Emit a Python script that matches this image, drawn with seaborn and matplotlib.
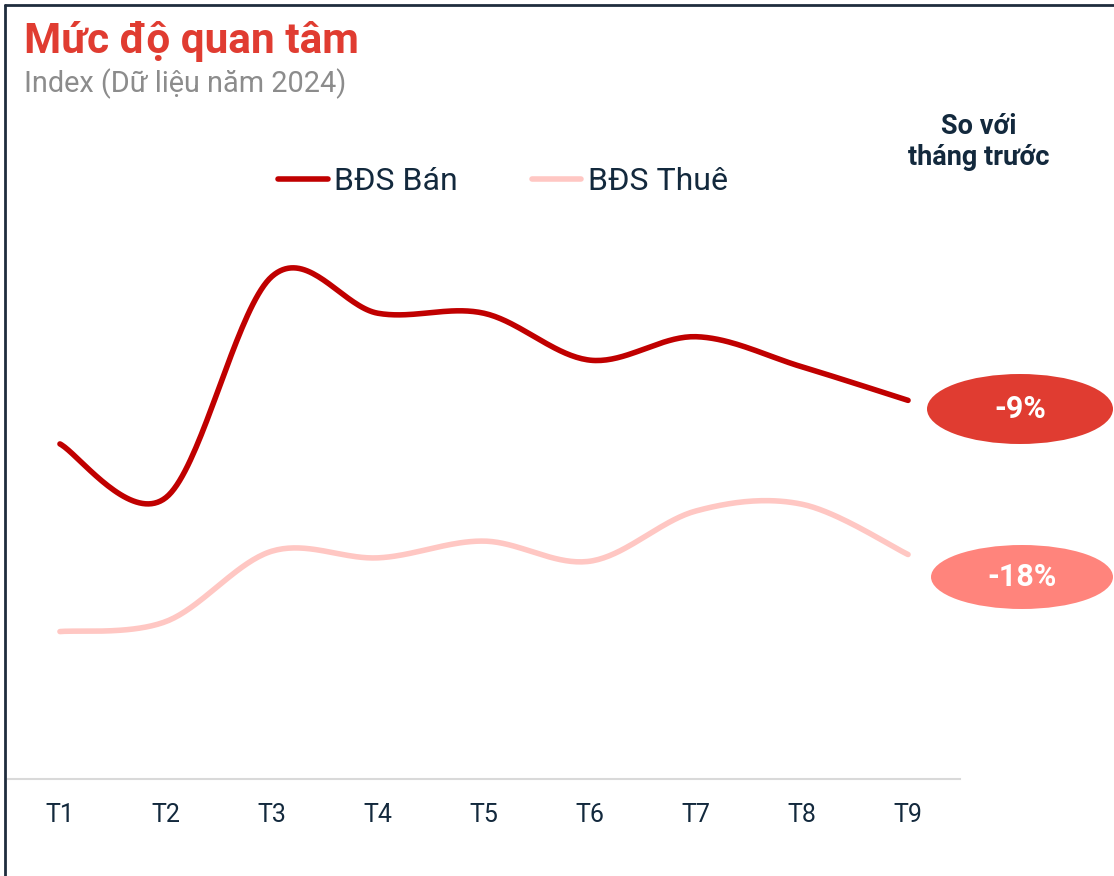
import numpy as np
import pandas as pd
import matplotlib
matplotlib.use('Agg')
import matplotlib.pyplot as plt
from matplotlib.patches import Ellipse
from matplotlib.lines import Line2D
import seaborn as sns

# data (index)
months = ['T1', 'T2', 'T3', 'T4', 'T5', 'T6', 'T7', 'T8', 'T9']
ban = [100, 84, 150, 139, 139, 125, 132, 123, 113]
thue = [44, 47, 68, 66, 71, 65, 80, 82, 67]
series_names = ['BĐS Bán', 'BĐS Thuê']
changes = ['-9%', '-18%']

RED = '#C00000'
PINK = '#FFC7C3'
NAVY = '#13293D'


# excel-like smoothing: bezier through every point (catmull-rom tangents)
def smooth(values, n=40):
    x = np.arange(len(values), dtype=float)
    y = np.array(values, dtype=float)
    pts = np.column_stack([x, y])
    out = []
    for i in range(len(pts) - 1):
        p0 = pts[max(i - 1, 0)]
        p1 = pts[i]
        p2 = pts[i + 1]
        p3 = pts[min(i + 2, len(pts) - 1)]
        c1 = p1 + (p2 - p0) / 6
        c2 = p2 - (p3 - p1) / 6
        t = np.linspace(0, 1, n)[:, None]
        seg = (1 - t) ** 3 * p1 + 3 * (1 - t) ** 2 * t * c1 + 3 * (1 - t) * t ** 2 * c2 + t ** 3 * p2
        out.append(seg if i == 0 else seg[1:])
    return np.vstack(out)


sns.set_theme(style='white')
plt.rcParams['font.family'] = ['Roboto', 'DejaVu Sans']

W, H = 1114, 876
fig = plt.figure(figsize=(W / 100, H / 100), dpi=100)
ax = fig.add_axes([8 / W, (H - 779) / H, (960 - 8) / W, (779 - 200) / H])

for vals, name, col in zip([ban, thue], series_names, [RED, PINK]):
    s = smooth(vals)
    df = pd.DataFrame({'x': s[:, 0], 'y': s[:, 1]})
    sns.lineplot(data=df, x='x', y='y', sort=False, estimator=None, color=col,
                 linewidth=4, solid_capstyle='round', ax=ax)

ax.set_xlim(-0.49, 8.49)
ax.set_ylim(0, 172.8)
ax.set_xticks(range(len(months)))
ax.set_xticklabels(months, fontsize=18, color=NAVY)
ax.tick_params(axis='x', length=0, pad=17)
ax.set_yticks([])
ax.set_xlabel('')
ax.set_ylabel('')
for side in ['top', 'right', 'left']:
    ax.spines[side].set_visible(False)
ax.spines['bottom'].set_color('#D9D9D9')
ax.spines['bottom'].set_linewidth(1.5)

# legend
handles = [Line2D([], [], color=RED, linewidth=4, solid_capstyle='round'),
           Line2D([], [], color=PINK, linewidth=4, solid_capstyle='round')]
leg = fig.legend(handles, series_names, loc='center', bbox_to_anchor=(503 / W, 1 - 182 / H),
                 ncol=2, frameon=False, fontsize=23, handlelength=1.55, handletextpad=0.2,
                 columnspacing=2.3)
for t in leg.get_texts():
    t.set_color(NAVY)

# titles
fig.text(24 / W, 1 - 41 / H, 'Mức độ quan tâm', fontsize=30.5, fontweight='bold',
         color='#E03C31', va='center', ha='left')
fig.text(24 / W, 1 - 84 / H, 'Index (Dữ liệu năm 2024)', fontsize=20.8,
         color='#8C8C8C', va='center', ha='left')
fig.text(979 / W, 1 - 142 / H, 'So với\ntháng trước', fontsize=19.5, fontweight='bold',
         color=NAVY, ha='center', va='center', linespacing=1.15)

# change badges
for (cx, cy, ew, eh, col), lab in zip([(1020, 409, 186, 70, '#E03C31'),
                                       (1022, 577, 182, 64, '#FF847C')], changes):
    e = Ellipse((cx / W, 1 - cy / H), ew / W, eh / H, transform=fig.transFigure,
                facecolor=col, edgecolor='none')
    fig.add_artist(e)
    fig.text(cx / W, 1 - cy / H, lab, fontsize=22, fontweight='bold', color='white',
             ha='center', va='center')

# frame lines (top and left)
fig.add_artist(Line2D([5 / W, 1], [1 - 5 / H, 1 - 5 / H], transform=fig.transFigure,
                      color='#1F2D3D', linewidth=2))
fig.add_artist(Line2D([5 / W, 5 / W], [0, 1 - 5 / H], transform=fig.transFigure,
                      color='#1F2D3D', linewidth=2))

fig.savefig('out.png', dpi=100, facecolor='white')
